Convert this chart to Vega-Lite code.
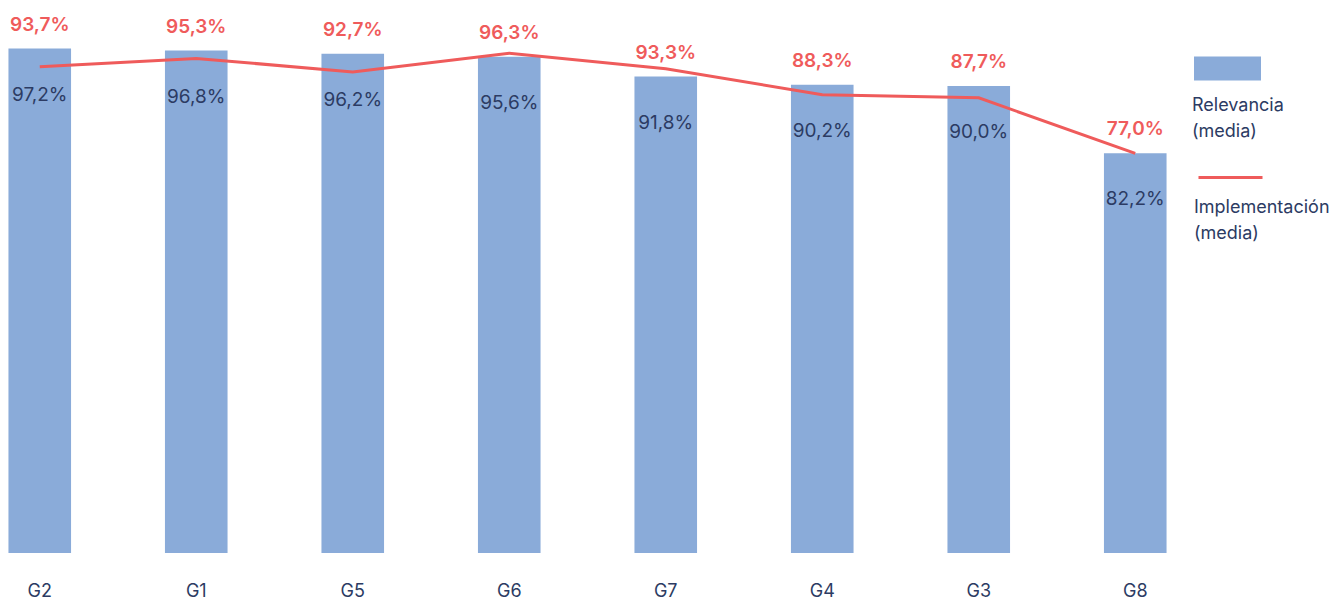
{
  "$schema": "https://vega.github.io/schema/vega-lite/v6.json",
  "width": 1175,
  "height": 519,
  "autosize": {"type": "none"},
  "padding": {"left": 0, "top": 34, "right": 159, "bottom": 48},
  "config": {
    "view": {"stroke": null},
    "font": "Inter",
    "locale": {"number": {"decimal": ",", "thousands": ".", "grouping": [3], "currency": ["", " €"]}}
  },
  "data": {
    "values": [
      {"grupo": "G2", "relevancia": 0.972, "altura_barra": 0.972, "implementacion": 0.937},
      {"grupo": "G1", "relevancia": 0.968, "altura_barra": 0.968, "implementacion": 0.953},
      {"grupo": "G5", "relevancia": 0.962, "altura_barra": 0.962, "implementacion": 0.927},
      {"grupo": "G6", "relevancia": 0.956, "altura_barra": 0.956, "implementacion": 0.963},
      {"grupo": "G7", "relevancia": 0.918, "altura_barra": 0.918, "implementacion": 0.933},
      {"grupo": "G4", "relevancia": 0.902, "altura_barra": 0.902, "implementacion": 0.883},
      {"grupo": "G3", "relevancia": 0.900, "altura_barra": 0.900, "implementacion": 0.877},
      {"grupo": "G8", "relevancia": 0.822, "altura_barra": 0.770, "implementacion": 0.770}
    ]
  },
  "encoding": {
    "x": {
      "field": "grupo", "type": "nominal", "sort": null,
      "scale": {"paddingInner": 0.6, "paddingOuter": 0.054},
      "axis": {"title": null, "domain": false, "ticks": false, "labelAngle": 0, "labelFontSize": 18, "labelColor": "#2C3B63", "labelPadding": 29, "labelFont": "Inter"}
    }
  },
  "layer": [
    {
      "mark": {"type": "bar"},
      "encoding": {
        "y": {"field": "altura_barra", "type": "quantitative", "scale": {"domain": [0, 1]}, "axis": null},
        "fill": {
          "datum": "Relevancia (media)",
          "scale": {"range": ["#8AABD9"]},
          "legend": {
            "orient": "none", "legendX": 1194, "legendY": 1, "title": null, "padding": 0,
            "symbolType": "M-1,-0.358L1,-0.358L1,0.358L-1,0.358Z", "symbolSize": 4489, "symbolStrokeWidth": 0,
            "labelExpr": "split(datum.label, ' ')", "labelFontSize": 18, "labelColor": "#2C3B63", "labelOffset": -69, "labelBaseline": "top", "labelFont": "Inter", "labelLimit": 200,
            "encode": {"labels": {"update": {"dy": {"value": 28}, "lineHeight": {"value": 26}}}}
          }
        }
      }
    },
    {
      "mark": {"type": "line", "strokeWidth": 3},
      "encoding": {
        "y": {"field": "implementacion", "type": "quantitative", "scale": {"domain": [0, 1]}, "axis": null},
        "stroke": {
          "datum": "Implementación (media)",
          "scale": {"range": ["#EF5B5B"]},
          "legend": {
            "orient": "none", "legendX": 1197, "legendY": 110, "title": null, "padding": 0,
            "symbolType": "stroke", "symbolSize": 4096, "symbolStrokeWidth": 3,
            "labelExpr": "split(datum.label, ' ')", "labelFontSize": 18, "labelColor": "#2C3B63", "labelOffset": -70, "labelBaseline": "top", "labelFont": "Inter", "labelLimit": 200,
            "encode": {"labels": {"update": {"dy": {"value": 21}, "lineHeight": {"value": 26}}}}
          }
        }
      }
    },
    {
      "mark": {"type": "text", "dy": -24, "baseline": "middle", "fontSize": 19, "fontWeight": 600, "color": "#EF5B5B", "font": "Inter"},
      "encoding": {
        "y": {"field": "altura_barra", "type": "quantitative", "scale": {"domain": [0, 1]}, "axis": null},
        "text": {"field": "implementacion", "type": "quantitative", "format": ".1%"}
      }
    },
    {
      "mark": {"type": "text", "dy": 46, "baseline": "middle", "fontSize": 19, "color": "#2C3B63", "font": "Inter"},
      "encoding": {
        "y": {"field": "altura_barra", "type": "quantitative", "scale": {"domain": [0, 1]}, "axis": null},
        "text": {"field": "relevancia", "type": "quantitative", "format": ".1%"}
      }
    }
  ]
}
